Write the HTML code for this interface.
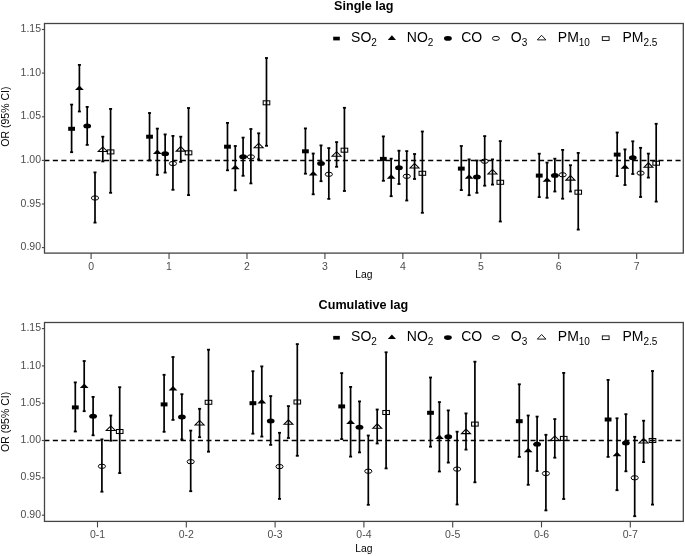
<!DOCTYPE html>
<html><head><meta charset="utf-8"><style>
html,body{margin:0;padding:0;background:#fff;}
body{width:685px;height:556px;overflow:hidden;}
svg{display:block;}
.wrap{will-change:transform;width:685px;height:556px;}
text{font-family:"Liberation Sans",sans-serif;}
.tk{font-size:10.5px;fill:#4d4d4d;}
.ax{font-size:10.3px;fill:#000;}
.yl{font-size:10.5px;fill:#000;}
.ti{font-size:12.6px;font-weight:bold;fill:#000;}
.lg{font-size:14px;fill:#000;}
.sb{font-size:10px;}
</style></head><body>
<div class="wrap"><svg width="685" height="556" viewBox="0 0 685 556">
<rect width="685" height="556" fill="#fff"/>
<line x1="44.3" y1="160.4" x2="683.3" y2="160.4" stroke="#000" stroke-width="1.5" stroke-dasharray="5.1 3.43"/>
<rect x="70.75" y="104.60" width="1.7" height="47.60" fill="#000"/>
<rect x="70.10" y="103.70" width="3.0" height="1.8" fill="#000"/>
<rect x="70.10" y="151.30" width="3.0" height="1.8" fill="#000"/>
<rect x="78.55" y="64.90" width="1.7" height="46.60" fill="#000"/>
<rect x="77.90" y="64.00" width="3.0" height="1.8" fill="#000"/>
<rect x="77.90" y="110.60" width="3.0" height="1.8" fill="#000"/>
<rect x="86.35" y="106.90" width="1.7" height="38.00" fill="#000"/>
<rect x="85.70" y="106.00" width="3.0" height="1.8" fill="#000"/>
<rect x="85.70" y="144.00" width="3.0" height="1.8" fill="#000"/>
<rect x="94.15" y="172.40" width="1.7" height="50.20" fill="#000"/>
<rect x="93.50" y="171.50" width="3.0" height="1.8" fill="#000"/>
<rect x="93.50" y="221.70" width="3.0" height="1.8" fill="#000"/>
<rect x="101.95" y="136.70" width="1.7" height="24.70" fill="#000"/>
<rect x="101.30" y="135.80" width="3.0" height="1.8" fill="#000"/>
<rect x="101.30" y="160.50" width="3.0" height="1.8" fill="#000"/>
<rect x="109.75" y="108.90" width="1.7" height="83.90" fill="#000"/>
<rect x="109.10" y="108.00" width="3.0" height="1.8" fill="#000"/>
<rect x="109.10" y="191.90" width="3.0" height="1.8" fill="#000"/>
<rect x="148.69" y="113.00" width="1.7" height="47.40" fill="#000"/>
<rect x="148.04" y="112.10" width="3.0" height="1.8" fill="#000"/>
<rect x="148.04" y="159.50" width="3.0" height="1.8" fill="#000"/>
<rect x="156.49" y="128.60" width="1.7" height="46.30" fill="#000"/>
<rect x="155.84" y="127.70" width="3.0" height="1.8" fill="#000"/>
<rect x="155.84" y="174.00" width="3.0" height="1.8" fill="#000"/>
<rect x="164.29" y="134.40" width="1.7" height="38.20" fill="#000"/>
<rect x="163.64" y="133.50" width="3.0" height="1.8" fill="#000"/>
<rect x="163.64" y="171.70" width="3.0" height="1.8" fill="#000"/>
<rect x="172.09" y="135.90" width="1.7" height="53.90" fill="#000"/>
<rect x="171.44" y="135.00" width="3.0" height="1.8" fill="#000"/>
<rect x="171.44" y="188.90" width="3.0" height="1.8" fill="#000"/>
<rect x="179.89" y="136.70" width="1.7" height="25.20" fill="#000"/>
<rect x="179.24" y="135.80" width="3.0" height="1.8" fill="#000"/>
<rect x="179.24" y="161.00" width="3.0" height="1.8" fill="#000"/>
<rect x="187.69" y="108.00" width="1.7" height="87.10" fill="#000"/>
<rect x="187.04" y="107.10" width="3.0" height="1.8" fill="#000"/>
<rect x="187.04" y="194.20" width="3.0" height="1.8" fill="#000"/>
<rect x="226.63" y="122.90" width="1.7" height="47.40" fill="#000"/>
<rect x="225.98" y="122.00" width="3.0" height="1.8" fill="#000"/>
<rect x="225.98" y="169.40" width="3.0" height="1.8" fill="#000"/>
<rect x="234.43" y="146.00" width="1.7" height="44.30" fill="#000"/>
<rect x="233.78" y="145.10" width="3.0" height="1.8" fill="#000"/>
<rect x="233.78" y="189.40" width="3.0" height="1.8" fill="#000"/>
<rect x="242.23" y="137.60" width="1.7" height="38.20" fill="#000"/>
<rect x="241.58" y="136.70" width="3.0" height="1.8" fill="#000"/>
<rect x="241.58" y="174.90" width="3.0" height="1.8" fill="#000"/>
<rect x="250.03" y="129.00" width="1.7" height="54.40" fill="#000"/>
<rect x="249.38" y="128.10" width="3.0" height="1.8" fill="#000"/>
<rect x="249.38" y="182.50" width="3.0" height="1.8" fill="#000"/>
<rect x="257.83" y="133.30" width="1.7" height="26.00" fill="#000"/>
<rect x="257.18" y="132.40" width="3.0" height="1.8" fill="#000"/>
<rect x="257.18" y="158.40" width="3.0" height="1.8" fill="#000"/>
<rect x="265.63" y="58.00" width="1.7" height="87.80" fill="#000"/>
<rect x="264.98" y="57.10" width="3.0" height="1.8" fill="#000"/>
<rect x="264.98" y="144.90" width="3.0" height="1.8" fill="#000"/>
<rect x="304.57" y="128.40" width="1.7" height="45.30" fill="#000"/>
<rect x="303.92" y="127.50" width="3.0" height="1.8" fill="#000"/>
<rect x="303.92" y="172.80" width="3.0" height="1.8" fill="#000"/>
<rect x="312.37" y="153.50" width="1.7" height="40.80" fill="#000"/>
<rect x="311.72" y="152.60" width="3.0" height="1.8" fill="#000"/>
<rect x="311.72" y="193.40" width="3.0" height="1.8" fill="#000"/>
<rect x="320.17" y="145.40" width="1.7" height="35.80" fill="#000"/>
<rect x="319.52" y="144.50" width="3.0" height="1.8" fill="#000"/>
<rect x="319.52" y="180.30" width="3.0" height="1.8" fill="#000"/>
<rect x="327.97" y="148.10" width="1.7" height="50.80" fill="#000"/>
<rect x="327.32" y="147.20" width="3.0" height="1.8" fill="#000"/>
<rect x="327.32" y="198.00" width="3.0" height="1.8" fill="#000"/>
<rect x="335.77" y="142.10" width="1.7" height="24.70" fill="#000"/>
<rect x="335.12" y="141.20" width="3.0" height="1.8" fill="#000"/>
<rect x="335.12" y="165.90" width="3.0" height="1.8" fill="#000"/>
<rect x="343.57" y="107.80" width="1.7" height="83.20" fill="#000"/>
<rect x="342.92" y="106.90" width="3.0" height="1.8" fill="#000"/>
<rect x="342.92" y="190.10" width="3.0" height="1.8" fill="#000"/>
<rect x="382.51" y="136.40" width="1.7" height="44.40" fill="#000"/>
<rect x="381.86" y="135.50" width="3.0" height="1.8" fill="#000"/>
<rect x="381.86" y="179.90" width="3.0" height="1.8" fill="#000"/>
<rect x="390.31" y="158.70" width="1.7" height="37.50" fill="#000"/>
<rect x="389.66" y="157.80" width="3.0" height="1.8" fill="#000"/>
<rect x="389.66" y="195.30" width="3.0" height="1.8" fill="#000"/>
<rect x="398.11" y="150.70" width="1.7" height="33.30" fill="#000"/>
<rect x="397.46" y="149.80" width="3.0" height="1.8" fill="#000"/>
<rect x="397.46" y="183.10" width="3.0" height="1.8" fill="#000"/>
<rect x="405.91" y="151.10" width="1.7" height="49.40" fill="#000"/>
<rect x="405.26" y="150.20" width="3.0" height="1.8" fill="#000"/>
<rect x="405.26" y="199.60" width="3.0" height="1.8" fill="#000"/>
<rect x="413.71" y="154.00" width="1.7" height="25.00" fill="#000"/>
<rect x="413.06" y="153.10" width="3.0" height="1.8" fill="#000"/>
<rect x="413.06" y="178.10" width="3.0" height="1.8" fill="#000"/>
<rect x="421.51" y="131.50" width="1.7" height="81.30" fill="#000"/>
<rect x="420.86" y="130.60" width="3.0" height="1.8" fill="#000"/>
<rect x="420.86" y="211.90" width="3.0" height="1.8" fill="#000"/>
<rect x="460.45" y="146.00" width="1.7" height="44.10" fill="#000"/>
<rect x="459.80" y="145.10" width="3.0" height="1.8" fill="#000"/>
<rect x="459.80" y="189.20" width="3.0" height="1.8" fill="#000"/>
<rect x="468.25" y="159.40" width="1.7" height="35.80" fill="#000"/>
<rect x="467.60" y="158.50" width="3.0" height="1.8" fill="#000"/>
<rect x="467.60" y="194.30" width="3.0" height="1.8" fill="#000"/>
<rect x="476.05" y="160.50" width="1.7" height="32.30" fill="#000"/>
<rect x="475.40" y="159.60" width="3.0" height="1.8" fill="#000"/>
<rect x="475.40" y="191.90" width="3.0" height="1.8" fill="#000"/>
<rect x="483.85" y="136.10" width="1.7" height="49.60" fill="#000"/>
<rect x="483.20" y="135.20" width="3.0" height="1.8" fill="#000"/>
<rect x="483.20" y="184.80" width="3.0" height="1.8" fill="#000"/>
<rect x="491.65" y="159.40" width="1.7" height="25.20" fill="#000"/>
<rect x="491.00" y="158.50" width="3.0" height="1.8" fill="#000"/>
<rect x="491.00" y="183.70" width="3.0" height="1.8" fill="#000"/>
<rect x="499.45" y="141.10" width="1.7" height="80.40" fill="#000"/>
<rect x="498.80" y="140.20" width="3.0" height="1.8" fill="#000"/>
<rect x="498.80" y="220.60" width="3.0" height="1.8" fill="#000"/>
<rect x="538.39" y="153.70" width="1.7" height="43.40" fill="#000"/>
<rect x="537.74" y="152.80" width="3.0" height="1.8" fill="#000"/>
<rect x="537.74" y="196.20" width="3.0" height="1.8" fill="#000"/>
<rect x="546.19" y="162.60" width="1.7" height="35.20" fill="#000"/>
<rect x="545.54" y="161.70" width="3.0" height="1.8" fill="#000"/>
<rect x="545.54" y="196.90" width="3.0" height="1.8" fill="#000"/>
<rect x="553.99" y="158.70" width="1.7" height="32.80" fill="#000"/>
<rect x="553.34" y="157.80" width="3.0" height="1.8" fill="#000"/>
<rect x="553.34" y="190.60" width="3.0" height="1.8" fill="#000"/>
<rect x="561.79" y="149.90" width="1.7" height="48.80" fill="#000"/>
<rect x="561.14" y="149.00" width="3.0" height="1.8" fill="#000"/>
<rect x="561.14" y="197.80" width="3.0" height="1.8" fill="#000"/>
<rect x="569.59" y="165.20" width="1.7" height="26.30" fill="#000"/>
<rect x="568.94" y="164.30" width="3.0" height="1.8" fill="#000"/>
<rect x="568.94" y="190.60" width="3.0" height="1.8" fill="#000"/>
<rect x="577.39" y="152.90" width="1.7" height="76.70" fill="#000"/>
<rect x="576.74" y="152.00" width="3.0" height="1.8" fill="#000"/>
<rect x="576.74" y="228.70" width="3.0" height="1.8" fill="#000"/>
<rect x="616.33" y="132.50" width="1.7" height="43.60" fill="#000"/>
<rect x="615.68" y="131.60" width="3.0" height="1.8" fill="#000"/>
<rect x="615.68" y="175.20" width="3.0" height="1.8" fill="#000"/>
<rect x="624.13" y="149.40" width="1.7" height="35.60" fill="#000"/>
<rect x="623.48" y="148.50" width="3.0" height="1.8" fill="#000"/>
<rect x="623.48" y="184.10" width="3.0" height="1.8" fill="#000"/>
<rect x="631.93" y="141.30" width="1.7" height="32.70" fill="#000"/>
<rect x="631.28" y="140.40" width="3.0" height="1.8" fill="#000"/>
<rect x="631.28" y="173.10" width="3.0" height="1.8" fill="#000"/>
<rect x="639.73" y="147.80" width="1.7" height="49.20" fill="#000"/>
<rect x="639.08" y="146.90" width="3.0" height="1.8" fill="#000"/>
<rect x="639.08" y="196.10" width="3.0" height="1.8" fill="#000"/>
<rect x="647.53" y="153.60" width="1.7" height="24.00" fill="#000"/>
<rect x="646.88" y="152.70" width="3.0" height="1.8" fill="#000"/>
<rect x="646.88" y="176.70" width="3.0" height="1.8" fill="#000"/>
<rect x="655.33" y="123.80" width="1.7" height="77.80" fill="#000"/>
<rect x="654.68" y="122.90" width="3.0" height="1.8" fill="#000"/>
<rect x="654.68" y="200.70" width="3.0" height="1.8" fill="#000"/>
<rect x="68.20" y="126.80" width="6.8" height="4.0" fill="#000"/>
<path d="M75.00 90.10L79.40 85.60L83.80 90.10Z" fill="#000"/>
<ellipse cx="87.20" cy="126.00" rx="3.9" ry="2.5" fill="#000"/>
<ellipse cx="95.00" cy="198.00" rx="3.6" ry="2.15" fill="none" stroke="#000" stroke-width="1.0"/>
<path d="M98.30 151.40L102.80 146.90L107.30 151.40Z" fill="none" stroke="#000" stroke-width="1.05" stroke-linejoin="miter"/>
<rect x="107.30" y="149.90" width="6.6" height="4.0" fill="none" stroke="#000" stroke-width="1.05"/>
<rect x="146.14" y="134.70" width="6.8" height="4.0" fill="#000"/>
<path d="M152.94 153.90L157.34 149.40L161.74 153.90Z" fill="#000"/>
<ellipse cx="165.14" cy="153.80" rx="3.9" ry="2.5" fill="#000"/>
<ellipse cx="172.94" cy="163.50" rx="3.6" ry="2.15" fill="none" stroke="#000" stroke-width="1.0"/>
<path d="M176.24 151.10L180.74 146.60L185.24 151.10Z" fill="none" stroke="#000" stroke-width="1.05" stroke-linejoin="miter"/>
<rect x="185.24" y="150.80" width="6.6" height="4.0" fill="none" stroke="#000" stroke-width="1.05"/>
<rect x="224.08" y="144.70" width="6.8" height="4.0" fill="#000"/>
<path d="M230.88 169.20L235.28 164.70L239.68 169.20Z" fill="#000"/>
<ellipse cx="243.08" cy="156.70" rx="3.9" ry="2.5" fill="#000"/>
<ellipse cx="250.88" cy="156.90" rx="3.6" ry="2.15" fill="none" stroke="#000" stroke-width="1.0"/>
<path d="M254.18 147.70L258.68 143.20L263.18 147.70Z" fill="none" stroke="#000" stroke-width="1.05" stroke-linejoin="miter"/>
<rect x="263.18" y="100.80" width="6.6" height="4.0" fill="none" stroke="#000" stroke-width="1.05"/>
<rect x="302.02" y="149.30" width="6.8" height="4.0" fill="#000"/>
<path d="M308.82 175.50L313.22 171.00L317.62 175.50Z" fill="#000"/>
<ellipse cx="321.02" cy="163.50" rx="3.9" ry="2.5" fill="#000"/>
<ellipse cx="328.82" cy="174.30" rx="3.6" ry="2.15" fill="none" stroke="#000" stroke-width="1.0"/>
<path d="M332.12 156.20L336.62 151.70L341.12 156.20Z" fill="none" stroke="#000" stroke-width="1.05" stroke-linejoin="miter"/>
<rect x="341.12" y="148.20" width="6.6" height="4.0" fill="none" stroke="#000" stroke-width="1.05"/>
<rect x="379.96" y="156.90" width="6.8" height="4.0" fill="#000"/>
<path d="M386.76 178.80L391.16 174.30L395.56 178.80Z" fill="#000"/>
<ellipse cx="398.96" cy="167.80" rx="3.9" ry="2.5" fill="#000"/>
<ellipse cx="406.76" cy="176.30" rx="3.6" ry="2.15" fill="none" stroke="#000" stroke-width="1.0"/>
<path d="M410.06 167.90L414.56 163.40L419.06 167.90Z" fill="none" stroke="#000" stroke-width="1.05" stroke-linejoin="miter"/>
<rect x="419.06" y="171.30" width="6.6" height="4.0" fill="none" stroke="#000" stroke-width="1.05"/>
<rect x="457.90" y="166.60" width="6.8" height="4.0" fill="#000"/>
<path d="M464.70 178.80L469.10 174.30L473.50 178.80Z" fill="#000"/>
<ellipse cx="476.90" cy="176.90" rx="3.9" ry="2.5" fill="#000"/>
<ellipse cx="484.70" cy="161.20" rx="3.6" ry="2.15" fill="none" stroke="#000" stroke-width="1.0"/>
<path d="M488.00 173.90L492.50 169.40L497.00 173.90Z" fill="none" stroke="#000" stroke-width="1.05" stroke-linejoin="miter"/>
<rect x="497.00" y="180.30" width="6.6" height="4.0" fill="none" stroke="#000" stroke-width="1.05"/>
<rect x="535.84" y="173.60" width="6.8" height="4.0" fill="#000"/>
<path d="M542.64 181.70L547.04 177.20L551.44 181.70Z" fill="#000"/>
<ellipse cx="554.84" cy="175.40" rx="3.9" ry="2.5" fill="#000"/>
<ellipse cx="562.64" cy="174.80" rx="3.6" ry="2.15" fill="none" stroke="#000" stroke-width="1.0"/>
<path d="M565.94 180.10L570.44 175.60L574.94 180.10Z" fill="none" stroke="#000" stroke-width="1.05" stroke-linejoin="miter"/>
<rect x="574.94" y="190.20" width="6.6" height="4.0" fill="none" stroke="#000" stroke-width="1.05"/>
<rect x="613.78" y="152.60" width="6.8" height="4.0" fill="#000"/>
<path d="M620.58 168.80L624.98 164.30L629.38 168.80Z" fill="#000"/>
<ellipse cx="632.78" cy="157.70" rx="3.9" ry="2.5" fill="#000"/>
<ellipse cx="640.58" cy="173.10" rx="3.6" ry="2.15" fill="none" stroke="#000" stroke-width="1.0"/>
<path d="M643.88 167.30L648.38 162.80L652.88 167.30Z" fill="none" stroke="#000" stroke-width="1.05" stroke-linejoin="miter"/>
<rect x="652.88" y="161.20" width="6.6" height="4.0" fill="none" stroke="#000" stroke-width="1.05"/>
<rect x="44.5" y="23.5" width="638.80" height="229.60" fill="none" stroke="#444" stroke-width="1.3"/>
<line x1="41.9" y1="29.5" x2="44.5" y2="29.5" stroke="#444" stroke-width="1.1"/>
<text x="41" y="32.1" text-anchor="end" class="tk">1.15</text>
<line x1="41.9" y1="73.1" x2="44.5" y2="73.1" stroke="#444" stroke-width="1.1"/>
<text x="41" y="75.7" text-anchor="end" class="tk">1.10</text>
<line x1="41.9" y1="116.8" x2="44.5" y2="116.8" stroke="#444" stroke-width="1.1"/>
<text x="41" y="119.4" text-anchor="end" class="tk">1.05</text>
<line x1="41.9" y1="160.4" x2="44.5" y2="160.4" stroke="#444" stroke-width="1.1"/>
<text x="41" y="163.0" text-anchor="end" class="tk">1.00</text>
<line x1="41.9" y1="204.0" x2="44.5" y2="204.0" stroke="#444" stroke-width="1.1"/>
<text x="41" y="206.6" text-anchor="end" class="tk">0.95</text>
<line x1="41.9" y1="247.6" x2="44.5" y2="247.6" stroke="#444" stroke-width="1.1"/>
<text x="41" y="250.2" text-anchor="end" class="tk">0.90</text>
<line x1="91.10" y1="253.1" x2="91.10" y2="259.1" stroke="#444" stroke-width="1.1"/>
<text x="91.10" y="270.4" text-anchor="middle" class="tk">0</text>
<line x1="169.04" y1="253.1" x2="169.04" y2="259.1" stroke="#444" stroke-width="1.1"/>
<text x="169.04" y="270.4" text-anchor="middle" class="tk">1</text>
<line x1="246.98" y1="253.1" x2="246.98" y2="259.1" stroke="#444" stroke-width="1.1"/>
<text x="246.98" y="270.4" text-anchor="middle" class="tk">2</text>
<line x1="324.92" y1="253.1" x2="324.92" y2="259.1" stroke="#444" stroke-width="1.1"/>
<text x="324.92" y="270.4" text-anchor="middle" class="tk">3</text>
<line x1="402.86" y1="253.1" x2="402.86" y2="259.1" stroke="#444" stroke-width="1.1"/>
<text x="402.86" y="270.4" text-anchor="middle" class="tk">4</text>
<line x1="480.80" y1="253.1" x2="480.80" y2="259.1" stroke="#444" stroke-width="1.1"/>
<text x="480.80" y="270.4" text-anchor="middle" class="tk">5</text>
<line x1="558.74" y1="253.1" x2="558.74" y2="259.1" stroke="#444" stroke-width="1.1"/>
<text x="558.74" y="270.4" text-anchor="middle" class="tk">6</text>
<line x1="636.68" y1="253.1" x2="636.68" y2="259.1" stroke="#444" stroke-width="1.1"/>
<text x="636.68" y="270.4" text-anchor="middle" class="tk">7</text>
<text x="363.9" y="277.6" text-anchor="middle" class="ax">Lag</text>
<text transform="translate(8.9 116.6) rotate(-90)" text-anchor="middle" class="yl">OR (95% CI)</text>
<text x="363.8" y="9.6" text-anchor="middle" class="ti">Single lag</text>
<g transform="translate(0 0)">
<rect x="333.2" y="36.7" width="6.6" height="3.7" fill="#000"/>
<text x="351.1" y="42" class="lg">SO<tspan class="sb" dy="3.8">2</tspan></text>
<path d="M387.8 39.9L391.9 35.3L396 39.9Z" fill="#000"/>
<text x="406.8" y="42" class="lg">NO<tspan class="sb" dy="3.8">2</tspan></text>
<ellipse cx="447.9" cy="38.4" rx="3.9" ry="2.3" fill="#000"/>
<text x="461.2" y="42" class="lg">CO</text>
<ellipse cx="495.9" cy="38.4" rx="3.5" ry="2.0" fill="none" stroke="#000" stroke-width="1.0"/>
<text x="510.8" y="42" class="lg">O<tspan class="sb" dy="3.8">3</tspan></text>
<path d="M537.3 39.9L541.6 35.3L545.9 39.9Z" fill="none" stroke="#000" stroke-width="0.9"/>
<text x="557.8" y="42" class="lg">PM<tspan class="sb" dy="3.8">10</tspan></text>
<rect x="602.3" y="36.7" width="6.8" height="3.7" fill="none" stroke="#000" stroke-width="0.9"/>
<text x="622.4" y="42" class="lg">PM<tspan class="sb" dy="3.8">2.5</tspan></text>
</g>
<line x1="44.3" y1="440.4" x2="683.3" y2="440.4" stroke="#000" stroke-width="1.5" stroke-dasharray="5.1 3.43"/>
<rect x="74.45" y="382.40" width="1.7" height="49.10" fill="#000"/>
<rect x="73.80" y="381.50" width="3.0" height="1.8" fill="#000"/>
<rect x="73.80" y="430.60" width="3.0" height="1.8" fill="#000"/>
<rect x="83.35" y="361.00" width="1.7" height="50.20" fill="#000"/>
<rect x="82.70" y="360.10" width="3.0" height="1.8" fill="#000"/>
<rect x="82.70" y="410.30" width="3.0" height="1.8" fill="#000"/>
<rect x="92.25" y="396.90" width="1.7" height="38.40" fill="#000"/>
<rect x="91.60" y="396.00" width="3.0" height="1.8" fill="#000"/>
<rect x="91.60" y="434.40" width="3.0" height="1.8" fill="#000"/>
<rect x="101.05" y="439.40" width="1.7" height="52.30" fill="#000"/>
<rect x="100.40" y="438.50" width="3.0" height="1.8" fill="#000"/>
<rect x="100.40" y="490.80" width="3.0" height="1.8" fill="#000"/>
<rect x="109.95" y="415.50" width="1.7" height="25.20" fill="#000"/>
<rect x="109.30" y="414.60" width="3.0" height="1.8" fill="#000"/>
<rect x="109.30" y="439.80" width="3.0" height="1.8" fill="#000"/>
<rect x="118.85" y="387.20" width="1.7" height="85.90" fill="#000"/>
<rect x="118.20" y="386.30" width="3.0" height="1.8" fill="#000"/>
<rect x="118.20" y="472.20" width="3.0" height="1.8" fill="#000"/>
<rect x="163.25" y="374.80" width="1.7" height="57.00" fill="#000"/>
<rect x="162.60" y="373.90" width="3.0" height="1.8" fill="#000"/>
<rect x="162.60" y="430.90" width="3.0" height="1.8" fill="#000"/>
<rect x="172.15" y="357.00" width="1.7" height="62.90" fill="#000"/>
<rect x="171.50" y="356.10" width="3.0" height="1.8" fill="#000"/>
<rect x="171.50" y="419.00" width="3.0" height="1.8" fill="#000"/>
<rect x="181.05" y="394.20" width="1.7" height="45.20" fill="#000"/>
<rect x="180.40" y="393.30" width="3.0" height="1.8" fill="#000"/>
<rect x="180.40" y="438.50" width="3.0" height="1.8" fill="#000"/>
<rect x="189.85" y="430.60" width="1.7" height="60.60" fill="#000"/>
<rect x="189.20" y="429.70" width="3.0" height="1.8" fill="#000"/>
<rect x="189.20" y="490.30" width="3.0" height="1.8" fill="#000"/>
<rect x="198.75" y="408.80" width="1.7" height="28.40" fill="#000"/>
<rect x="198.10" y="407.90" width="3.0" height="1.8" fill="#000"/>
<rect x="198.10" y="436.30" width="3.0" height="1.8" fill="#000"/>
<rect x="207.65" y="349.70" width="1.7" height="102.00" fill="#000"/>
<rect x="207.00" y="348.80" width="3.0" height="1.8" fill="#000"/>
<rect x="207.00" y="450.80" width="3.0" height="1.8" fill="#000"/>
<rect x="252.05" y="371.20" width="1.7" height="62.50" fill="#000"/>
<rect x="251.40" y="370.30" width="3.0" height="1.8" fill="#000"/>
<rect x="251.40" y="432.80" width="3.0" height="1.8" fill="#000"/>
<rect x="260.95" y="366.40" width="1.7" height="70.20" fill="#000"/>
<rect x="260.30" y="365.50" width="3.0" height="1.8" fill="#000"/>
<rect x="260.30" y="435.70" width="3.0" height="1.8" fill="#000"/>
<rect x="269.85" y="396.10" width="1.7" height="48.80" fill="#000"/>
<rect x="269.20" y="395.20" width="3.0" height="1.8" fill="#000"/>
<rect x="269.20" y="444.00" width="3.0" height="1.8" fill="#000"/>
<rect x="278.65" y="432.80" width="1.7" height="66.10" fill="#000"/>
<rect x="278.00" y="431.90" width="3.0" height="1.8" fill="#000"/>
<rect x="278.00" y="498.00" width="3.0" height="1.8" fill="#000"/>
<rect x="287.55" y="406.10" width="1.7" height="31.90" fill="#000"/>
<rect x="286.90" y="405.20" width="3.0" height="1.8" fill="#000"/>
<rect x="286.90" y="437.10" width="3.0" height="1.8" fill="#000"/>
<rect x="296.45" y="344.10" width="1.7" height="111.70" fill="#000"/>
<rect x="295.80" y="343.20" width="3.0" height="1.8" fill="#000"/>
<rect x="295.80" y="454.90" width="3.0" height="1.8" fill="#000"/>
<rect x="340.85" y="373.10" width="1.7" height="66.00" fill="#000"/>
<rect x="340.20" y="372.20" width="3.0" height="1.8" fill="#000"/>
<rect x="340.20" y="438.20" width="3.0" height="1.8" fill="#000"/>
<rect x="349.75" y="386.90" width="1.7" height="69.70" fill="#000"/>
<rect x="349.10" y="386.00" width="3.0" height="1.8" fill="#000"/>
<rect x="349.10" y="455.70" width="3.0" height="1.8" fill="#000"/>
<rect x="358.65" y="401.40" width="1.7" height="51.00" fill="#000"/>
<rect x="358.00" y="400.50" width="3.0" height="1.8" fill="#000"/>
<rect x="358.00" y="451.50" width="3.0" height="1.8" fill="#000"/>
<rect x="367.45" y="435.50" width="1.7" height="69.30" fill="#000"/>
<rect x="366.80" y="434.60" width="3.0" height="1.8" fill="#000"/>
<rect x="366.80" y="503.90" width="3.0" height="1.8" fill="#000"/>
<rect x="376.35" y="409.50" width="1.7" height="34.00" fill="#000"/>
<rect x="375.70" y="408.60" width="3.0" height="1.8" fill="#000"/>
<rect x="375.70" y="442.60" width="3.0" height="1.8" fill="#000"/>
<rect x="385.25" y="352.30" width="1.7" height="116.10" fill="#000"/>
<rect x="384.60" y="351.40" width="3.0" height="1.8" fill="#000"/>
<rect x="384.60" y="467.50" width="3.0" height="1.8" fill="#000"/>
<rect x="429.65" y="377.50" width="1.7" height="69.20" fill="#000"/>
<rect x="429.00" y="376.60" width="3.0" height="1.8" fill="#000"/>
<rect x="429.00" y="445.80" width="3.0" height="1.8" fill="#000"/>
<rect x="438.55" y="402.10" width="1.7" height="69.40" fill="#000"/>
<rect x="437.90" y="401.20" width="3.0" height="1.8" fill="#000"/>
<rect x="437.90" y="470.60" width="3.0" height="1.8" fill="#000"/>
<rect x="447.45" y="410.40" width="1.7" height="52.20" fill="#000"/>
<rect x="446.80" y="409.50" width="3.0" height="1.8" fill="#000"/>
<rect x="446.80" y="461.70" width="3.0" height="1.8" fill="#000"/>
<rect x="456.25" y="431.70" width="1.7" height="72.80" fill="#000"/>
<rect x="455.60" y="430.80" width="3.0" height="1.8" fill="#000"/>
<rect x="455.60" y="503.60" width="3.0" height="1.8" fill="#000"/>
<rect x="465.15" y="413.40" width="1.7" height="36.20" fill="#000"/>
<rect x="464.50" y="412.50" width="3.0" height="1.8" fill="#000"/>
<rect x="464.50" y="448.70" width="3.0" height="1.8" fill="#000"/>
<rect x="474.05" y="361.70" width="1.7" height="120.60" fill="#000"/>
<rect x="473.40" y="360.80" width="3.0" height="1.8" fill="#000"/>
<rect x="473.40" y="481.40" width="3.0" height="1.8" fill="#000"/>
<rect x="518.45" y="384.30" width="1.7" height="72.60" fill="#000"/>
<rect x="517.80" y="383.40" width="3.0" height="1.8" fill="#000"/>
<rect x="517.80" y="456.00" width="3.0" height="1.8" fill="#000"/>
<rect x="527.35" y="415.50" width="1.7" height="69.30" fill="#000"/>
<rect x="526.70" y="414.60" width="3.0" height="1.8" fill="#000"/>
<rect x="526.70" y="483.90" width="3.0" height="1.8" fill="#000"/>
<rect x="536.25" y="416.60" width="1.7" height="54.40" fill="#000"/>
<rect x="535.60" y="415.70" width="3.0" height="1.8" fill="#000"/>
<rect x="535.60" y="470.10" width="3.0" height="1.8" fill="#000"/>
<rect x="545.05" y="434.80" width="1.7" height="75.60" fill="#000"/>
<rect x="544.40" y="433.90" width="3.0" height="1.8" fill="#000"/>
<rect x="544.40" y="509.50" width="3.0" height="1.8" fill="#000"/>
<rect x="553.95" y="419.10" width="1.7" height="38.60" fill="#000"/>
<rect x="553.30" y="418.20" width="3.0" height="1.8" fill="#000"/>
<rect x="553.30" y="456.80" width="3.0" height="1.8" fill="#000"/>
<rect x="562.85" y="372.90" width="1.7" height="126.10" fill="#000"/>
<rect x="562.20" y="372.00" width="3.0" height="1.8" fill="#000"/>
<rect x="562.20" y="498.10" width="3.0" height="1.8" fill="#000"/>
<rect x="607.25" y="379.90" width="1.7" height="77.00" fill="#000"/>
<rect x="606.60" y="379.00" width="3.0" height="1.8" fill="#000"/>
<rect x="606.60" y="456.00" width="3.0" height="1.8" fill="#000"/>
<rect x="616.15" y="418.30" width="1.7" height="71.90" fill="#000"/>
<rect x="615.50" y="417.40" width="3.0" height="1.8" fill="#000"/>
<rect x="615.50" y="489.30" width="3.0" height="1.8" fill="#000"/>
<rect x="625.05" y="414.20" width="1.7" height="57.10" fill="#000"/>
<rect x="624.40" y="413.30" width="3.0" height="1.8" fill="#000"/>
<rect x="624.40" y="470.40" width="3.0" height="1.8" fill="#000"/>
<rect x="633.85" y="436.80" width="1.7" height="79.40" fill="#000"/>
<rect x="633.20" y="435.90" width="3.0" height="1.8" fill="#000"/>
<rect x="633.20" y="515.30" width="3.0" height="1.8" fill="#000"/>
<rect x="642.75" y="420.70" width="1.7" height="41.40" fill="#000"/>
<rect x="642.10" y="419.80" width="3.0" height="1.8" fill="#000"/>
<rect x="642.10" y="461.20" width="3.0" height="1.8" fill="#000"/>
<rect x="651.65" y="371.00" width="1.7" height="133.60" fill="#000"/>
<rect x="651.00" y="370.10" width="3.0" height="1.8" fill="#000"/>
<rect x="651.00" y="503.70" width="3.0" height="1.8" fill="#000"/>
<rect x="71.90" y="405.40" width="6.8" height="4.0" fill="#000"/>
<path d="M79.80 387.90L84.20 383.40L88.60 387.90Z" fill="#000"/>
<ellipse cx="93.10" cy="416.30" rx="3.9" ry="2.5" fill="#000"/>
<ellipse cx="101.90" cy="466.30" rx="3.6" ry="2.15" fill="none" stroke="#000" stroke-width="1.0"/>
<path d="M106.30 430.40L110.80 425.90L115.30 430.40Z" fill="none" stroke="#000" stroke-width="1.05" stroke-linejoin="miter"/>
<rect x="116.40" y="429.50" width="6.6" height="4.0" fill="none" stroke="#000" stroke-width="1.05"/>
<rect x="160.70" y="402.40" width="6.8" height="4.0" fill="#000"/>
<path d="M168.60 390.40L173.00 385.90L177.40 390.40Z" fill="#000"/>
<ellipse cx="181.90" cy="416.90" rx="3.9" ry="2.5" fill="#000"/>
<ellipse cx="190.70" cy="461.70" rx="3.6" ry="2.15" fill="none" stroke="#000" stroke-width="1.0"/>
<path d="M195.10 424.90L199.60 420.40L204.10 424.90Z" fill="none" stroke="#000" stroke-width="1.05" stroke-linejoin="miter"/>
<rect x="205.20" y="400.30" width="6.6" height="4.0" fill="none" stroke="#000" stroke-width="1.05"/>
<rect x="249.50" y="401.20" width="6.8" height="4.0" fill="#000"/>
<path d="M257.40 403.60L261.80 399.10L266.20 403.60Z" fill="#000"/>
<ellipse cx="270.70" cy="420.90" rx="3.9" ry="2.5" fill="#000"/>
<ellipse cx="279.50" cy="466.60" rx="3.6" ry="2.15" fill="none" stroke="#000" stroke-width="1.0"/>
<path d="M283.90 424.30L288.40 419.80L292.90 424.30Z" fill="none" stroke="#000" stroke-width="1.05" stroke-linejoin="miter"/>
<rect x="294.00" y="400.00" width="6.6" height="4.0" fill="none" stroke="#000" stroke-width="1.05"/>
<rect x="338.30" y="404.40" width="6.8" height="4.0" fill="#000"/>
<path d="M346.20 423.90L350.60 419.40L355.00 423.90Z" fill="#000"/>
<ellipse cx="359.50" cy="427.20" rx="3.9" ry="2.5" fill="#000"/>
<ellipse cx="368.30" cy="471.20" rx="3.6" ry="2.15" fill="none" stroke="#000" stroke-width="1.0"/>
<path d="M372.70 428.30L377.20 423.80L381.70 428.30Z" fill="none" stroke="#000" stroke-width="1.05" stroke-linejoin="miter"/>
<rect x="382.80" y="410.50" width="6.6" height="4.0" fill="none" stroke="#000" stroke-width="1.05"/>
<rect x="427.10" y="410.80" width="6.8" height="4.0" fill="#000"/>
<path d="M435.00 438.90L439.40 434.40L443.80 438.90Z" fill="#000"/>
<ellipse cx="448.30" cy="436.80" rx="3.9" ry="2.5" fill="#000"/>
<ellipse cx="457.10" cy="469.10" rx="3.6" ry="2.15" fill="none" stroke="#000" stroke-width="1.0"/>
<path d="M461.50 433.60L466.00 429.10L470.50 433.60Z" fill="none" stroke="#000" stroke-width="1.05" stroke-linejoin="miter"/>
<rect x="471.60" y="422.10" width="6.6" height="4.0" fill="none" stroke="#000" stroke-width="1.05"/>
<rect x="515.90" y="419.20" width="6.8" height="4.0" fill="#000"/>
<path d="M523.80 452.20L528.20 447.70L532.60 452.20Z" fill="#000"/>
<ellipse cx="537.10" cy="444.20" rx="3.9" ry="2.5" fill="#000"/>
<ellipse cx="545.90" cy="473.50" rx="3.6" ry="2.15" fill="none" stroke="#000" stroke-width="1.0"/>
<path d="M550.30 440.40L554.80 435.90L559.30 440.40Z" fill="none" stroke="#000" stroke-width="1.05" stroke-linejoin="miter"/>
<rect x="560.40" y="436.40" width="6.6" height="4.0" fill="none" stroke="#000" stroke-width="1.05"/>
<rect x="604.70" y="417.50" width="6.8" height="4.0" fill="#000"/>
<path d="M612.60 456.30L617.00 451.80L621.40 456.30Z" fill="#000"/>
<ellipse cx="625.90" cy="443.00" rx="3.9" ry="2.5" fill="#000"/>
<ellipse cx="634.70" cy="477.80" rx="3.6" ry="2.15" fill="none" stroke="#000" stroke-width="1.0"/>
<path d="M639.10 442.90L643.60 438.40L648.10 442.90Z" fill="none" stroke="#000" stroke-width="1.05" stroke-linejoin="miter"/>
<rect x="649.20" y="438.50" width="6.6" height="4.0" fill="none" stroke="#000" stroke-width="1.05"/>
<rect x="44.5" y="322.5" width="638.80" height="198.90" fill="none" stroke="#444" stroke-width="1.3"/>
<line x1="41.9" y1="328.6" x2="44.5" y2="328.6" stroke="#444" stroke-width="1.1"/>
<text x="41" y="331.2" text-anchor="end" class="tk">1.15</text>
<line x1="41.9" y1="365.9" x2="44.5" y2="365.9" stroke="#444" stroke-width="1.1"/>
<text x="41" y="368.5" text-anchor="end" class="tk">1.10</text>
<line x1="41.9" y1="403.2" x2="44.5" y2="403.2" stroke="#444" stroke-width="1.1"/>
<text x="41" y="405.8" text-anchor="end" class="tk">1.05</text>
<line x1="41.9" y1="440.5" x2="44.5" y2="440.5" stroke="#444" stroke-width="1.1"/>
<text x="41" y="443.1" text-anchor="end" class="tk">1.00</text>
<line x1="41.9" y1="477.8" x2="44.5" y2="477.8" stroke="#444" stroke-width="1.1"/>
<text x="41" y="480.4" text-anchor="end" class="tk">0.95</text>
<line x1="41.9" y1="515.2" x2="44.5" y2="515.2" stroke="#444" stroke-width="1.1"/>
<text x="41" y="517.8" text-anchor="end" class="tk">0.90</text>
<line x1="97.50" y1="521.4" x2="97.50" y2="527.4" stroke="#444" stroke-width="1.1"/>
<text x="97.50" y="537.9" text-anchor="middle" class="tk">0-1</text>
<line x1="186.30" y1="521.4" x2="186.30" y2="527.4" stroke="#444" stroke-width="1.1"/>
<text x="186.30" y="537.9" text-anchor="middle" class="tk">0-2</text>
<line x1="275.10" y1="521.4" x2="275.10" y2="527.4" stroke="#444" stroke-width="1.1"/>
<text x="275.10" y="537.9" text-anchor="middle" class="tk">0-3</text>
<line x1="363.90" y1="521.4" x2="363.90" y2="527.4" stroke="#444" stroke-width="1.1"/>
<text x="363.90" y="537.9" text-anchor="middle" class="tk">0-4</text>
<line x1="452.70" y1="521.4" x2="452.70" y2="527.4" stroke="#444" stroke-width="1.1"/>
<text x="452.70" y="537.9" text-anchor="middle" class="tk">0-5</text>
<line x1="541.50" y1="521.4" x2="541.50" y2="527.4" stroke="#444" stroke-width="1.1"/>
<text x="541.50" y="537.9" text-anchor="middle" class="tk">0-6</text>
<line x1="630.30" y1="521.4" x2="630.30" y2="527.4" stroke="#444" stroke-width="1.1"/>
<text x="630.30" y="537.9" text-anchor="middle" class="tk">0-7</text>
<text x="363.9" y="552" text-anchor="middle" class="ax">Lag</text>
<text transform="translate(8.9 421.85) rotate(-90)" text-anchor="middle" class="yl">OR (95% CI)</text>
<text x="363.4" y="308.7" text-anchor="middle" class="ti">Cumulative lag</text>
<g transform="translate(0 299.2)">
<rect x="333.2" y="36.7" width="6.6" height="3.7" fill="#000"/>
<text x="351.1" y="42" class="lg">SO<tspan class="sb" dy="3.8">2</tspan></text>
<path d="M387.8 39.9L391.9 35.3L396 39.9Z" fill="#000"/>
<text x="406.8" y="42" class="lg">NO<tspan class="sb" dy="3.8">2</tspan></text>
<ellipse cx="447.9" cy="38.4" rx="3.9" ry="2.3" fill="#000"/>
<text x="461.2" y="42" class="lg">CO</text>
<ellipse cx="495.9" cy="38.4" rx="3.5" ry="2.0" fill="none" stroke="#000" stroke-width="1.0"/>
<text x="510.8" y="42" class="lg">O<tspan class="sb" dy="3.8">3</tspan></text>
<path d="M537.3 39.9L541.6 35.3L545.9 39.9Z" fill="none" stroke="#000" stroke-width="0.9"/>
<text x="557.8" y="42" class="lg">PM<tspan class="sb" dy="3.8">10</tspan></text>
<rect x="602.3" y="36.7" width="6.8" height="3.7" fill="none" stroke="#000" stroke-width="0.9"/>
<text x="622.4" y="42" class="lg">PM<tspan class="sb" dy="3.8">2.5</tspan></text>
</g>
</svg></div>
</body></html>
